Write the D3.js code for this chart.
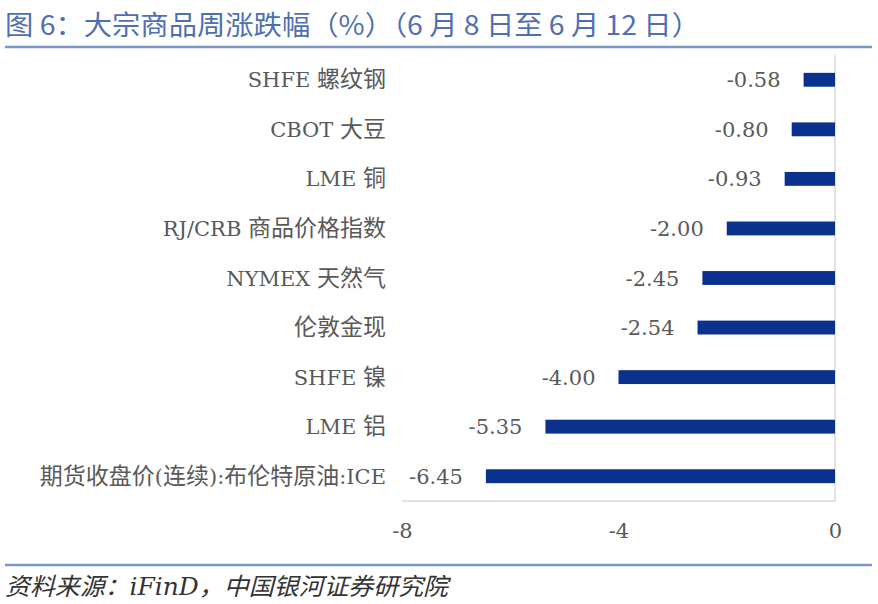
<!DOCTYPE html>
<html>
<head>
<meta charset="utf-8">
<script src="https://cdn.jsdelivr.net/npm/d3@7"></script>
<style>
  body { margin: 0; background: #fff; }
  svg { display: block; }
</style>
</head>
<body>
<svg id="chart" width="878" height="604"></svg>
<script>
// commodities, top to bottom
var categories = [
  "SHFE 螺纹钢",
  "CBOT 大豆",
  "LME 铜",
  "RJ/CRB 商品价格指数",
  "NYMEX 天然气",
  "伦敦金现",
  "SHFE 镍",
  "LME 铝",
  "期货收盘价(连续):布伦特原油:ICE"
];
var changes = [-0.58, -0.80, -0.93, -2.00, -2.45, -2.54, -4.00, -5.35, -6.45];
var ticks = [-8, -4, 0];

var svg = d3.select("#chart");
var latin = "'DejaVu Serif', 'Noto Sans CJK SC', serif";
var grey = "#595959";

var margin = { top: 55, right: 43, bottom: 103, left: 402 };
var width = 878 - margin.left - margin.right,
  height = 604 - margin.top - margin.bottom;

// split a label into latin / CJK runs so the CJK part can be sized up a bit
function runs(s) {
  return s.match(/[\u3000-\u9fff\uff00-\uffef]+|[^\u3000-\u9fff\uff00-\uffef]+/g);
}

// title + rules
svg.append("text")
  .attr("x", 5)
  .attr("y", 35)
  .attr("font-family", "'Noto Sans CJK SC', sans-serif")
  .attr("font-size", 27)
  .attr("fill", "#4f6fb3")
  .attr("textLength", 695)
  .attr("lengthAdjust", "spacingAndGlyphs")
  .text("图 6：大宗商品周涨跌幅（%）（6 月 8 日至 6 月 12 日）");

svg.append("line")
  .attr("x1", 5).attr("x2", 872)
  .attr("y1", 47).attr("y2", 47)
  .attr("stroke", "#7b96c9").attr("stroke-width", 2.5);

svg.append("line")
  .attr("x1", 5).attr("x2", 872)
  .attr("y1", 565).attr("y2", 565)
  .attr("stroke", "#7b96c9").attr("stroke-width", 2.5);

svg.append("text")
  .attr("x", 5)
  .attr("y", 595)
  .attr("font-family", "'DejaVu Serif', 'Noto Sans CJK SC', serif")
  .attr("font-style", "italic")
  .attr("font-size", 24)
  .attr("fill", "#333")
  .attr("textLength", 443)
  .attr("lengthAdjust", "spacingAndGlyphs")
  .text("资料来源：iFinD，中国银河证券研究院");

var g = svg.append("g")
  .attr("transform", "translate(" + margin.left + "," + margin.top + ")");

var x = d3.scaleLinear().domain([-8, 0]).range([0, width]);
var y = d3.scaleBand().domain(categories).range([0, height]).paddingInner(0.72).paddingOuter(0.36);

// axis lines (bottom + right edge at zero)
g.append("line")
  .attr("x1", 0).attr("x2", x(0))
  .attr("y1", height).attr("y2", height)
  .attr("stroke", "#d9d9d9").attr("stroke-width", 1.5);
g.append("line")
  .attr("x1", x(0)).attr("x2", x(0))
  .attr("y1", 0).attr("y2", height)
  .attr("stroke", "#d9d9d9").attr("stroke-width", 1.5);

g.selectAll("rect.bar")
  .data(changes)
  .enter()
  .append("rect")
  .attr("class", "bar")
  .attr("x", function (d) { return x(d); })
  .attr("y", function (d, i) { return y(categories[i]); })
  .attr("width", function (d) { return x(0) - x(d); })
  .attr("height", y.bandwidth())
  .attr("fill", "#0b318f");

g.selectAll("text.val")
  .data(changes)
  .enter()
  .append("text")
  .attr("class", "val")
  .attr("x", function (d) { return x(d) - 23; })
  .attr("y", function (d, i) { return y(categories[i]) + y.bandwidth() / 2; })
  .attr("dy", "0.36em")
  .attr("text-anchor", "end")
  .attr("font-family", latin)
  .attr("font-size", 21)
  .attr("fill", grey)
  .text(function (d) { return d.toFixed(2); });

var cat = g.selectAll("text.cat")
  .data(categories)
  .enter()
  .append("text")
  .attr("class", "cat")
  .attr("x", -16)
  .attr("y", function (d) { return y(d) + y.bandwidth() / 2; })
  .attr("dy", "0.36em")
  .attr("text-anchor", "end")
  .attr("font-family", latin)
  .attr("font-size", 21)
  .attr("fill", grey);

cat.selectAll("tspan")
  .data(function (d) { return runs(d); })
  .enter()
  .append("tspan")
  .attr("font-size", function (d) { return /[\u3000-\u9fff]/.test(d) ? 23 : 21; })
  .text(function (d) { return d; });

var xAxis = d3.axisBottom(x).tickValues(ticks).tickFormat(function (d) { return String(d); })
  .tickSize(0).tickPadding(22);
g.append("g")
  .attr("transform", "translate(0," + height + ")")
  .call(xAxis)
  .call(function (a) { a.select(".domain").remove(); })
  .selectAll("text")
  .attr("font-family", latin)
  .attr("font-size", 21)
  .attr("fill", grey);
</script>
</body>
</html>
